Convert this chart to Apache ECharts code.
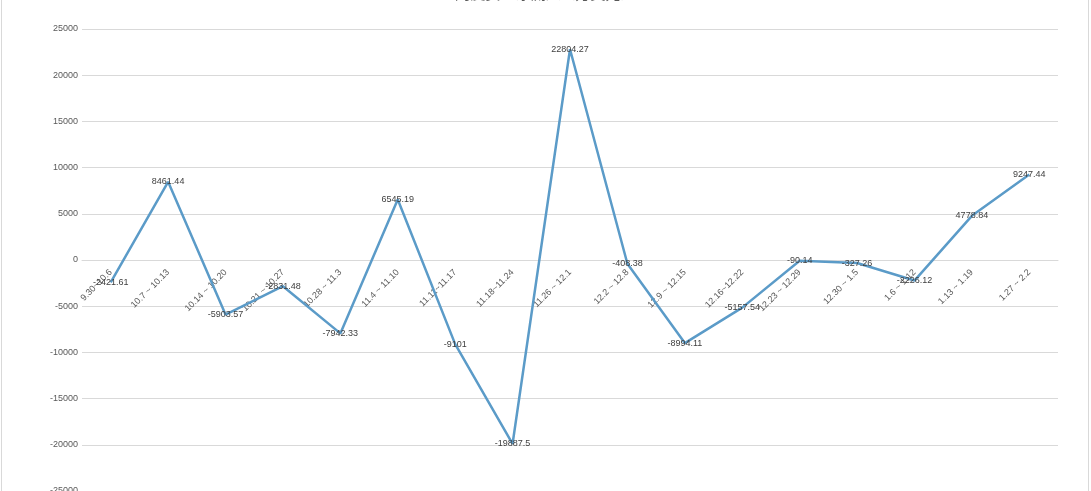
<!DOCTYPE html>
<html>
<head>
<meta charset="utf-8">
<script src="https://cdn.jsdelivr.net/npm/echarts@6/dist/echarts.min.js"></script>
<style>
html,body{margin:0;padding:0;background:#fff;}
#c{width:1091px;height:491px;}
</style>
</head>
<body>
<div id="c"></div>
<script>
const titleText = "周度资金净流入（万美元）";
const categories = ["9.30~10.6","10.7 ~ 10.13","10.14 ~ 10.20","10.21 ~ 10.27","10.28 ~ 11.3","11.4 ~ 11.10","11.11~11.17","11.18~11.24","11.26 ~ 12.1","12.2 ~ 12.8","12.9 ~ 12.15","12.16~12.22","12.23 ~ 12.29","12.30 ~ 1.5","1.6 ~ 1.12","1.13 ~ 1.19","1.27 ~ 2.2"];
const values = [-2421.61, 8461.44, -5903.57, -2831.48, -7942.33, 6545.19, -9101, -19887.5, 22804.27, -408.38, -8994.11, -5157.54, -90.14, -327.26, -2226.12, 4778.84, 9247.44];
const yMin = -25000, yMax = 25000, yStep = 5000;

const gridTop = 29, gridBottom = 0, H = 491;
const plotH = H - gridTop - gridBottom;
const zeroOffset = -plotH * (0 - yMin) / (yMax - yMin);

const chart = echarts.init(document.getElementById('c'), null, {renderer:'canvas'});
chart.setOption({
  animation:false,
  backgroundColor:'#fff',
  title:{
    text:titleText, left:'center', top:-19,
    textStyle:{fontFamily:'Noto Sans CJK SC', fontSize:15, color:'#595959', fontWeight:'normal'}
  },
  graphic:[{
    type:'rect', shape:{x:1.5,y:-5,width:1087,height:510}, silent:true,
    style:{fill:'none', stroke:'#d9d9d9', lineWidth:1}
  }],
  grid:{left:82, right:33, top:gridTop, bottom:gridBottom, containLabel:false, outerBoundsMode:'none'},
  xAxis:{
    type:'category', data:categories, boundaryGap:true, position:'bottom', offset:zeroOffset,
    axisLine:{show:true, onZero:false, lineStyle:{color:'#d9d9d9', width:1}},
    axisTick:{show:false},
    axisLabel:{rotate:45, margin:11, fontSize:9, color:'#595959', fontFamily:'Liberation Sans', interval:0}
  },
  yAxis:{
    type:'value', min:yMin, max:yMax, interval:yStep,
    axisLine:{show:false}, axisTick:{show:false},
    splitLine:{lineStyle:{color:'#d9d9d9', width:1}},
    axisLabel:{fontSize:9, color:'#595959', fontFamily:'Liberation Sans', margin:4, formatter:function(v){return String(v);}}
  },
  series:[{
    type:'line', data:values, symbol:'circle', symbolSize:1, showSymbol:true,
    itemStyle:{color:'rgba(0,0,0,0)'},
    lineStyle:{color:'#5b9bc8', width:2.5},
    label:{show:true, position:'top', distance:-5, fontSize:9, color:'#404040', fontFamily:'Liberation Sans',
      formatter:function(p){return String(p.value);}}
  }]
});
</script>
</body>
</html>
